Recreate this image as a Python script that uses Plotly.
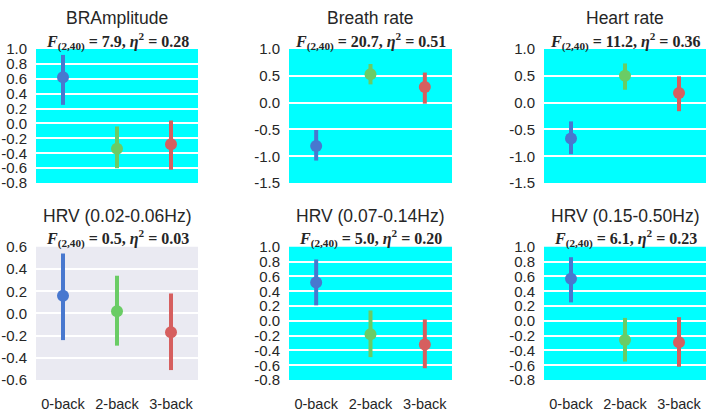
import plotly.graph_objects as go

conditions = ["0-back", "2-back", "3-back"]
colors = ["#4878CF", "#6ACC65", "#D65F5F"]

titles = ["BRAmplitude", "Breath rate", "Heart rate",
          "HRV (0.02-0.06Hz)", "HRV (0.07-0.14Hz)", "HRV (0.15-0.50Hz)"]
f_values = ["7.9", "20.7", "11.2", "0.5", "5.0", "6.1"]
eta_values = ["0.28", "0.51", "0.36", "0.03", "0.20", "0.23"]

br_amp_mean = [0.62, -0.34, -0.28]
br_amp_lo = [0.25, -0.60, -0.62]
br_amp_hi = [0.92, -0.04, 0.04]

breath_mean = [-0.81, 0.53, 0.29]
breath_lo = [-1.08, 0.34, -0.02]
breath_hi = [-0.51, 0.72, 0.56]

heart_mean = [-0.67, 0.50, 0.18]
heart_lo = [-0.96, 0.24, -0.16]
heart_hi = [-0.35, 0.73, 0.49]

hrv_low_mean = [0.16, 0.02, -0.17]
hrv_low_lo = [-0.24, -0.29, -0.51]
hrv_low_hi = [0.54, 0.34, 0.18]

hrv_mid_mean = [0.52, -0.18, -0.32]
hrv_mid_lo = [0.21, -0.49, -0.64]
hrv_mid_hi = [0.83, 0.14, 0.02]

hrv_high_mean = [0.57, -0.26, -0.29]
hrv_high_lo = [0.25, -0.55, -0.62]
hrv_high_hi = [0.86, 0.04, 0.05]

ticks_a = [-0.8, -0.6, -0.4, -0.2, 0.0, 0.2, 0.4, 0.6, 0.8, 1.0]
ticks_b = [-1.5, -1.0, -0.5, 0.0, 0.5, 1.0]
ticks_c = [-0.6, -0.4, -0.2, 0.0, 0.2, 0.4, 0.6]

panels = [
    (br_amp_mean, br_amp_lo, br_amp_hi, ticks_a, "#00FFFF"),
    (breath_mean, breath_lo, breath_hi, ticks_b, "#00FFFF"),
    (heart_mean, heart_lo, heart_hi, ticks_b, "#00FFFF"),
    (hrv_low_mean, hrv_low_lo, hrv_low_hi, ticks_c, "#EAEAF2"),
    (hrv_mid_mean, hrv_mid_lo, hrv_mid_hi, ticks_a, "#00FFFF"),
    (hrv_high_mean, hrv_high_lo, hrv_high_hi, ticks_a, "#00FFFF"),
]

W, H = 708, 412
x_px = [(36, 198), (289, 452), (544, 706)]
y_px = [(42, 183), (250, 390)]

fig = go.Figure()
layout = dict(
    width=W, height=H, margin=dict(l=0, r=0, t=0, b=0, pad=0),
    paper_bgcolor="white", plot_bgcolor="white", showlegend=False,
    font=dict(family="Liberation Sans, Arial, sans-serif", size=14, color="#262626"),
)
annotations = []
shapes = []
for i, (mean, lo, hi, ticks, bg) in enumerate(panels):
    r, c = divmod(i, 3)
    xa = "x" if i == 0 else f"x{i+1}"
    ya = "y" if i == 0 else f"y{i+1}"
    xkey = "xaxis" if i == 0 else f"xaxis{i+1}"
    ykey = "yaxis" if i == 0 else f"yaxis{i+1}"
    x0, x1 = x_px[c]
    y0, y1 = y_px[r]
    for j, cond in enumerate(conditions):
        fig.add_trace(go.Scatter(
            x=[cond], y=[mean[j]], mode="markers",
            marker=dict(color=colors[j], size=12),
            error_y=dict(type="data", symmetric=False,
                         array=[hi[j] - mean[j]], arrayminus=[mean[j] - lo[j]],
                         color=colors[j], thickness=4, width=0),
            xaxis=xa, yaxis=ya, hoverinfo="skip",
        ))
    layout[xkey] = dict(
        domain=[x0 / W, x1 / W], anchor=ya,
        type="category", categoryorder="array", categoryarray=conditions,
        range=[-0.5, 2.5], showgrid=False, zeroline=False, showline=False,
        showticklabels=(r == 1), ticks="", tickfont=dict(size=14.5),
        ticklabelstandoff=13,
    )
    layout[ykey] = dict(
        domain=[(H - y1) / H, (H - y0) / H], anchor=xa,
        range=[ticks[0], ticks[-1]],
        tickvals=ticks, ticktext=[f"{v:.1f}" for v in ticks],
        showgrid=True, gridcolor="white", gridwidth=1.5,
        zeroline=False, showline=False, ticks="", tickfont=dict(size=15),
        ticklabelstandoff=8,
    )
    shapes.append(dict(type="rect", xref="paper", yref="paper", layer="below",
                       x0=x0 / W, x1=x1 / W, y0=(H - y1) / H, y1=(H - y0) / H,
                       fillcolor=bg, line=dict(width=0)))
    cx = (x0 + x1) / 2 / W
    tb = 21 if r == 0 else 229
    st = 21 if r == 0 else 228
    annotations.append(dict(text=titles[i], x=cx, y=(H - tb) / H, xref="paper", yref="paper",
                            showarrow=False, xanchor="center", yanchor="bottom",
                            borderpad=0, font=dict(size=17.5, color="#262626")))
    annotations.append(dict(
        text=f"<b><i>F</i><sub>(2,40)</sub> = {f_values[i]}, <i>η</i><sup>2</sup> = {eta_values[i]}</b>",
        x=cx, y=(H - st) / H, xref="paper", yref="paper", showarrow=False,
        xanchor="center", yanchor="top", borderpad=0,
        font=dict(size=16, family="Liberation Serif, serif", color="#262626")))

layout["annotations"] = annotations
layout["shapes"] = shapes
fig.update_layout(**layout)
fig.write_html("out.html", config={"displayModeBar": False},
               post_script="document.body.style.margin='0';")
